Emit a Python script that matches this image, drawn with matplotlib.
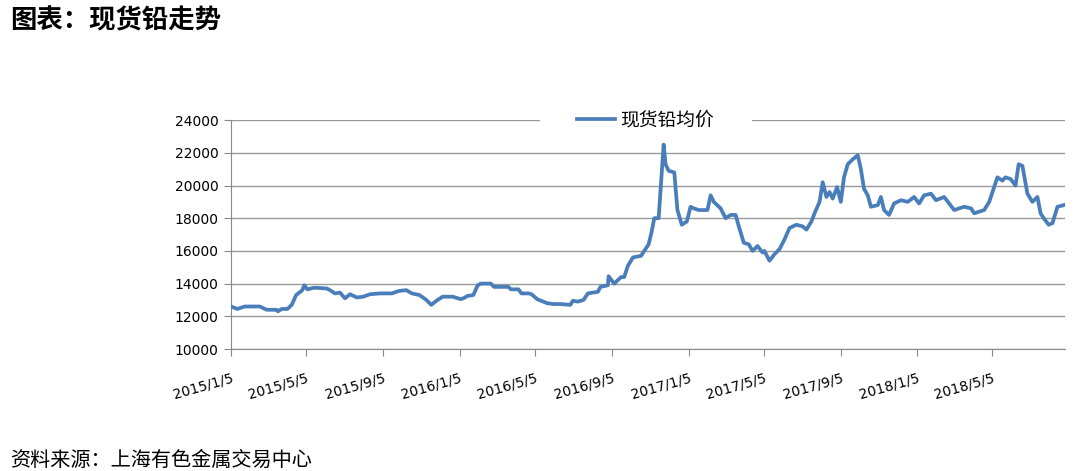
import matplotlib
matplotlib.use("Agg")
import matplotlib.pyplot as plt
import matplotlib.patches as mpatches
import pandas as pd

plt.rcParams['font.family'] = ['DejaVu Sans', 'Noto Sans CJK SC']
cjk = ['Noto Sans CJK SC', 'DejaVu Sans']

# 现货铅均价 (元/吨)
dates = [
    "2015-01-05", "2015-01-15", "2015-01-27", "2015-02-20", "2015-03-03", "2015-03-19",
    "2015-03-21", "2015-03-27", "2015-04-05", "2015-04-12", "2015-04-19", "2015-04-29",
    "2015-05-02", "2015-05-07", "2015-05-18", "2015-06-07", "2015-06-12", "2015-06-20",
    "2015-06-28", "2015-07-06", "2015-07-14", "2015-07-25", "2015-08-04", "2015-08-15",
    "2015-08-31", "2015-09-19", "2015-09-30", "2015-10-12", "2015-10-21", "2015-11-02",
    "2015-11-13", "2015-11-21", "2015-11-29", "2015-12-09", "2015-12-25", "2016-01-07",
    "2016-01-11", "2016-01-18", "2016-01-27", "2016-02-03", "2016-02-08", "2016-02-24",
    "2016-02-29", "2016-03-23", "2016-03-27", "2016-04-08", "2016-04-13", "2016-04-24",
    "2016-04-29", "2016-05-08", "2016-05-24", "2016-06-03", "2016-06-14", "2016-06-30",
    "2016-07-04", "2016-07-12", "2016-07-21", "2016-07-28", "2016-08-13", "2016-08-17",
    "2016-08-29", "2016-08-30", "2016-09-08", "2016-09-19", "2016-09-24", "2016-09-30",
    "2016-10-08", "2016-10-21", "2016-10-26", "2016-11-02", "2016-11-07", "2016-11-11",
    "2016-11-18", "2016-11-21", "2016-11-26", "2016-11-29", "2016-12-04", "2016-12-13",
    "2016-12-18", "2016-12-25", "2017-01-02", "2017-01-08", "2017-01-13", "2017-01-21",
    "2017-02-04", "2017-02-09", "2017-02-14", "2017-02-25", "2017-03-05", "2017-03-13",
    "2017-03-21", "2017-03-26", "2017-04-03", "2017-04-11", "2017-04-17", "2017-04-25",
    "2017-05-03", "2017-05-06", "2017-05-14", "2017-05-22", "2017-05-30", "2017-06-07",
    "2017-06-15", "2017-06-26", "2017-07-06", "2017-07-12", "2017-07-20", "2017-07-25",
    "2017-08-02", "2017-08-07", "2017-08-13", "2017-08-18", "2017-08-23", "2017-08-30",
    "2017-09-05", "2017-09-10", "2017-09-16", "2017-09-24", "2017-10-02", "2017-10-07",
    "2017-10-12", "2017-10-18", "2017-10-23", "2017-11-03", "2017-11-08", "2017-11-13",
    "2017-11-21", "2017-11-29", "2017-12-10", "2017-12-21", "2017-12-31", "2018-01-08",
    "2018-01-16", "2018-01-27", "2018-02-04", "2018-02-17", "2018-02-25", "2018-03-05",
    "2018-03-21", "2018-04-01", "2018-04-06", "2018-04-22", "2018-04-30", "2018-05-07",
    "2018-05-13", "2018-05-21", "2018-05-26", "2018-06-03", "2018-06-11", "2018-06-16",
    "2018-06-22", "2018-06-30", "2018-07-08", "2018-07-16", "2018-07-21", "2018-07-26",
    "2018-08-03", "2018-08-09", "2018-08-17", "2018-08-27",
]
prices = [
    12600, 12450, 12600, 12600, 12400, 12400,
    12300, 12450, 12450, 12700, 13300, 13600,
    13900, 13650, 13750, 13700, 13600, 13400,
    13450, 13100, 13350, 13150, 13200, 13350,
    13400, 13400, 13550, 13600, 13400, 13300,
    13000, 12700, 12950, 13200, 13200, 13050,
    13100, 13250, 13300, 13900, 14000, 14000,
    13800, 13800, 13650, 13650, 13400, 13400,
    13350, 13050, 12800, 12750, 12750, 12700,
    12950, 12900, 13000, 13400, 13500, 13800,
    13900, 14450, 14000, 14400, 14400, 15100,
    15600, 15700, 16000, 16400, 17200, 18000,
    18000, 19700, 22500, 21300, 20900, 20800,
    18500, 17600, 17800, 18700, 18600, 18500,
    18500, 19400, 19000, 18600, 18000, 18200,
    18200, 17500, 16500, 16400, 16000, 16300,
    15900, 16000, 15400, 15800, 16100, 16700,
    17400, 17600, 17500, 17300, 17800, 18300,
    19000, 20200, 19300, 19600, 19200, 19900,
    19000, 20500, 21300, 21600, 21850, 21000,
    19800, 19400, 18700, 18800, 19300, 18500,
    18200, 18900, 19100, 19000, 19300, 18900,
    19400, 19500, 19100, 19300, 18900, 18500,
    18700, 18600, 18300, 18500, 19000, 19800,
    20500, 20300, 20500, 20400, 20000, 21300,
    21200, 19500, 19000, 19300, 18300, 18000,
    17600, 17700, 18700, 18800,
]

tick_dates = ["2015-01-05", "2015-05-05", "2015-09-05", "2016-01-05", "2016-05-05",
              "2016-09-05", "2017-01-05", "2017-05-05", "2017-09-05", "2018-01-05",
              "2018-05-05"]
tick_labels = ["2015/1/5", "2015/5/5", "2015/9/5", "2016/1/5", "2016/5/5", "2016/9/5",
               "2017/1/5", "2017/5/5", "2017/9/5", "2018/1/5", "2018/5/5"]

x = pd.to_datetime(dates)
fig = plt.figure(figsize=(10.8, 4.71), dpi=100)
ax = fig.add_axes([0.2139, 0.259, 0.7722, 0.486])

ax.plot(x, prices, color='#4a7ebb', linewidth=2.7, label='现货铅均价', zorder=3)

ax.set_ylim(10000, 24000)
ax.set_yticks(range(10000, 24001, 2000))
ax.set_xlim(pd.Timestamp("2015-01-05"), pd.Timestamp("2018-08-29"))
ax.set_xticks(pd.to_datetime(tick_dates))
ax.set_xticklabels(tick_labels, rotation=16, ha='right', rotation_mode='anchor', fontsize=10)
ax.tick_params(axis='x', length=5, color='#888888', pad=11)
ax.tick_params(axis='y', length=5, color='#888888', labelsize=10, pad=4)

ax.grid(axis='y', color='#999999', linewidth=1)
ax.set_axisbelow(True)
for s in ['top', 'right']:
    ax.spines[s].set_visible(False)
for s in ['left', 'bottom']:
    ax.spines[s].set_color('#888888')

# white area behind the legend, covering the top gridline
ax.add_patch(mpatches.Rectangle((0.37, 0.96), 0.255, 0.08, transform=ax.transAxes,
                                facecolor='white', edgecolor='none', zorder=2,
                                clip_on=False))
leg = ax.legend(loc='center', bbox_to_anchor=(0.497, 1.0), frameon=False,
                prop={'family': cjk, 'size': 13.5}, handlelength=2.0,
                borderpad=0.2, borderaxespad=0, handletextpad=0.3)
leg.set_zorder(5)

fig.text(0.009, 0.955, '图表：现货铅走势', family=cjk, fontsize=19, fontweight='bold',
         va='center', ha='left')
fig.text(0.009, 0.022, '资料来源：上海有色金属交易中心', family=cjk, fontsize=14.5,
         va='center', ha='left')

fig.savefig('out.png', dpi=100)
